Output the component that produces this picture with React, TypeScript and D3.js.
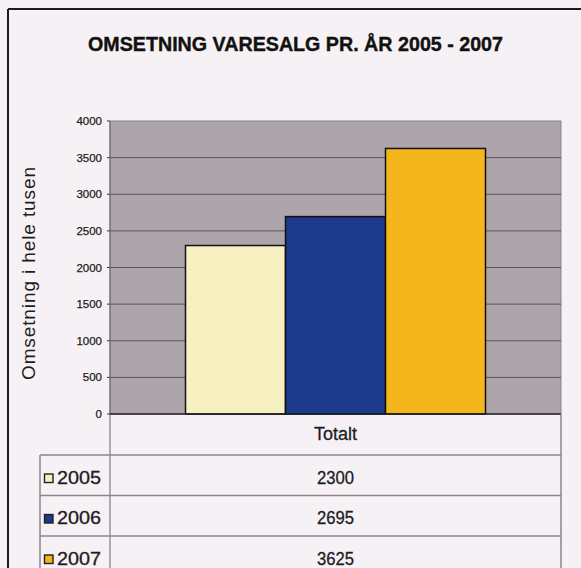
import React from "react";
import * as d3 from "d3";

const categories = ["Totalt"];
const seriesNames = ["2005", "2006", "2007"];
const seriesValues = [2300, 2695, 3625];
const seriesColors = ["#f7f1c2", "#1d3a8c", "#f5b51c"];
const yTicks = [0, 500, 1000, 1500, 2000, 2500, 3000, 3500, 4000];

const W = 581;
const H = 568;
const plot = { left: 110, right: 561, top: 121, bottom: 414 };
const rowH = 40.5;
const headerH = 41;

export default function App() {
  const y = d3.scaleLinear().domain([0, 4000]).range([plot.bottom, plot.top]);
  const cat = d3.scaleBand().domain(categories).range([plot.left, plot.right]).paddingInner(0).paddingOuter(0);
  const groupInner = cat.bandwidth() * (300 / 451);
  const gx = d3.scaleBand().domain(seriesNames).range([0, groupInner]);
  const groupStart = (c: string) => (cat(c) as number) + (cat.bandwidth() - groupInner) / 2;

  const font = "'Liberation Sans', Arial, sans-serif";
  const tableTop = plot.bottom + headerH;
  const ink = "#1c1c22";

  return (
    <svg width={W} height={H} style={{ position: "fixed", left: 0, top: 0 }} fontFamily={font}>
      <rect x={0} y={0} width={W} height={H} fill="#f6f1f4" />
      {/* outer frame */}
      <line x1={8} y1={9} x2={W} y2={9} stroke="#1a1a22" strokeWidth={2} />
      <line x1={8} y1={9} x2={8} y2={H} stroke="#1a1a22" strokeWidth={2} />

      <text
        x={88}
        y={51}
        fontSize={20}
        fontWeight="bold"
        fill="#111"
        stroke="#111"
        strokeWidth={0.4}
        textLength={415}
        lengthAdjust="spacingAndGlyphs"
      >
        OMSETNING VARESALG PR. ÅR  2005 - 2007
      </text>

      {/* plot area */}
      <rect x={plot.left} y={plot.top} width={plot.right - plot.left} height={plot.bottom - plot.top} fill="#aea5ab" stroke="#8a8288" strokeWidth={1} />
      {yTicks.map((t) => (
        <g key={t}>
          {t > 0 && t < 4000 && (
            <line x1={plot.left} x2={plot.right} y1={y(t)} y2={y(t)} stroke="#5d5262" strokeWidth={1} />
          )}
          <line x1={plot.left - 3} x2={plot.left} y1={y(t)} y2={y(t)} stroke="#333" strokeWidth={1} />
          <text
            x={102}
            y={y(t) + 4}
            textAnchor="end"
            fontSize={11.5}
            fill={ink}
            stroke={ink}
            strokeWidth={0.25}
            textLength={String(t).length * 6.4}
            lengthAdjust="spacingAndGlyphs"
          >
            {t}
          </text>
        </g>
      ))}
      <line x1={plot.left} x2={plot.left} y1={plot.top} y2={H} stroke="#6b6470" strokeWidth={1} />

      {/* bars */}
      {categories.map((c) =>
        seriesNames.map((s, i) => (
          <rect
            key={c + s}
            x={groupStart(c) + (gx(s) as number)}
            y={y(seriesValues[i])}
            width={gx.bandwidth()}
            height={y(0) - y(seriesValues[i])}
            fill={seriesColors[i]}
            stroke="#111"
            strokeWidth={1.5}
          />
        ))
      )}
      <line x1={plot.left} x2={plot.right} y1={plot.bottom} y2={plot.bottom} stroke="#222" strokeWidth={1.5} />

      {/* y axis title */}
      <text
        transform={`translate(35, ${273.5}) rotate(-90)`}
        textAnchor="middle"
        fontSize={19}
        fill={ink}
        textLength={213}
        lengthAdjust="spacing"
      >
        Omsetning i hele tusen
      </text>

      {/* data table */}
      <line x1={plot.right} x2={plot.right} y1={plot.bottom} y2={H} stroke="#8d868c" strokeWidth={1.5} />
      {categories.map((c) => (
        <text
          key={c}
          x={(cat(c) as number) + cat.bandwidth() / 2}
          y={plot.bottom + 26}
          textAnchor="middle"
          fontSize={18}
          fill={ink}
          stroke={ink}
          strokeWidth={0.3}
          textLength={43}
          lengthAdjust="spacingAndGlyphs"
        >
          {c}
        </text>
      ))}
      <line x1={40} x2={40} y1={tableTop} y2={H} stroke="#8d868c" strokeWidth={1.5} />
      {seriesNames.map((s, i) => {
        const top = tableTop + i * rowH;
        return (
          <g key={s}>
            <line x1={40} x2={plot.right} y1={top} y2={top} stroke="#8d868c" strokeWidth={1.5} />
            <rect x={44.5} y={top + 19} width={8.5} height={8.5} fill={seriesColors[i]} stroke="#222" strokeWidth={1.4} />
            <text
              x={57}
              y={top + 28.5}
              fontSize={18}
              fill={ink}
              stroke={ink}
              strokeWidth={0.3}
              textLength={44}
              lengthAdjust="spacingAndGlyphs"
            >
              {s}
            </text>
            {categories.map((c) => (
              <text
                key={c}
                x={(cat(c) as number) + cat.bandwidth() / 2}
                y={top + 28.5}
                textAnchor="middle"
                fontSize={18}
                fill={ink}
                stroke={ink}
                strokeWidth={0.3}
                textLength={37}
                lengthAdjust="spacingAndGlyphs"
              >
                {seriesValues[i]}
              </text>
            ))}
          </g>
        );
      })}
    </svg>
  );
}
